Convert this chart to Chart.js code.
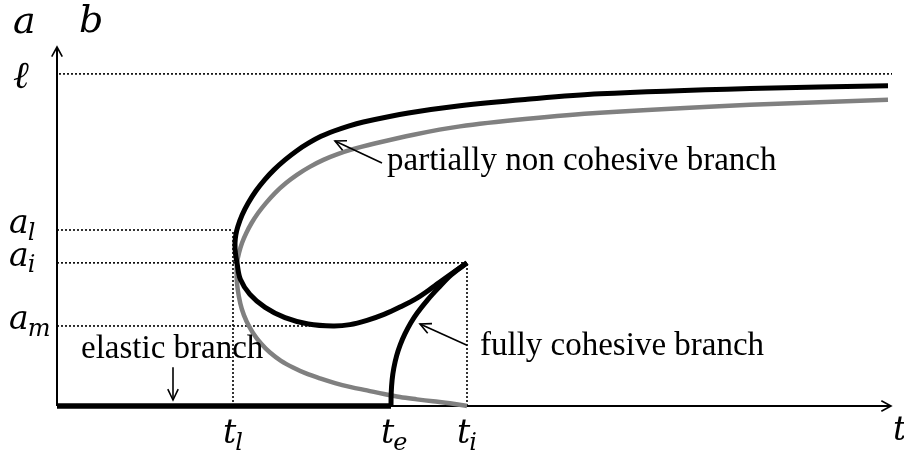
<!DOCTYPE html>
<html><head><meta charset="utf-8">
<script src="https://cdn.jsdelivr.net/npm/chart.js@4/dist/chart.umd.min.js"></script>
<style>html,body{margin:0;padding:0;background:#fff}</style>
</head><body>
<canvas id="c" width="904" height="454"></canvas>
<script>
// Named levels on the time axis and on the crack-length axis
const T_L = 1.76, T_E = 3.34, T_I = 4.10, T_END = 8.34;
const A_M = 0.241, A_I = 0.431, A_L = 0.530, ELL = 1.0, A_TOP = 1.081;

// Tick labels (base_subscript)
const xTickLabels = ['t_l', 't_e', 't_i'];
const xTickValues = [T_L, T_E, T_I];
const yTickLabels = ['ℓ', 'a_l', 'a_i', 'a_m'];
const yTickValues = [ELL, A_L, A_I, A_M];

// Partially non cohesive branch, black (a), from the far end back to the cusp
const blackT = [8.31, 6.93, 5.43, 4.68, 4.03, 3.514, 3.064, 2.915, 2.77, 2.64, 2.518, 2.395, 2.28, 2.169, 2.076, 1.99, 1.912, 1.851, 1.807, 1.788, 1.78, 1.784, 1.80, 1.833, 1.929, 2.081, 2.28, 2.512, 2.76, 2.93, 3.10, 3.27, 3.43, 3.60, 3.76, 3.93, 4.10];
const blackA = [0.964, 0.956, 0.940, 0.923, 0.904, 0.882, 0.855, 0.843, 0.828, 0.812, 0.792, 0.768, 0.741, 0.711, 0.681, 0.648, 0.611, 0.575, 0.539, 0.515, 0.491, 0.461, 0.431, 0.382, 0.336, 0.297, 0.266, 0.247, 0.241, 0.245, 0.258, 0.276, 0.298, 0.325, 0.358, 0.395, 0.431];

// Partially non cohesive branch, grey (b)
const greyT = [8.31, 6.93, 5.43, 4.68, 4.03, 3.566, 3.116, 2.967, 2.813, 2.664, 2.527, 2.399, 2.293, 2.182, 2.089, 2.011, 1.946, 1.893, 1.85, 1.82, 1.80, 1.796, 1.80, 1.818, 1.848, 1.895, 1.96, 2.04, 2.13, 2.24, 2.36, 2.49, 2.63, 2.78, 2.94, 3.10, 3.27, 3.43, 3.60, 3.76, 3.93, 4.10];
const greyA = [0.922, 0.907, 0.883, 0.864, 0.842, 0.817, 0.786, 0.774, 0.759, 0.741, 0.720, 0.696, 0.672, 0.642, 0.611, 0.581, 0.551, 0.521, 0.491, 0.461, 0.431, 0.401, 0.370, 0.331, 0.292, 0.255, 0.220, 0.188, 0.161, 0.136, 0.116, 0.098, 0.083, 0.069, 0.057, 0.047, 0.036, 0.027, 0.020, 0.014, 0.008, 0.0];

// Fully cohesive branch
const cohesiveT = [3.34, 3.342, 3.351, 3.368, 3.396, 3.432, 3.479, 3.537, 3.602, 3.704, 3.812, 3.942, 4.10];
const cohesiveA = [0.0, 0.039, 0.078, 0.114, 0.151, 0.184, 0.217, 0.250, 0.280, 0.319, 0.355, 0.395, 0.431];

// Elastic branch
const elasticT = [0, T_E];
const elasticA = [0, 0];

const pts = (ts, as) => ts.map((t, i) => ({ x: t, y: as[i] }));

const dotted = (a, b) => ({
  data: [a, b], borderColor: '#000', borderWidth: 1.6, borderDash: [2, 2],
  pointRadius: 0, tension: 0, order: 5
});

const serif = '"Liberation Serif", "Times New Roman", serif';
const mathFont = '"DejaVu Serif", serif';

function drawMath(ctx, label, x, y, size) {
  const [base, sub] = label.split('_');
  ctx.font = 'italic ' + size + 'px ' + mathFont;
  ctx.fillText(base, x, y);
  if (sub) {
    const w = ctx.measureText(base).width;
    ctx.font = 'italic ' + Math.round(size * 0.72) + 'px ' + mathFont;
    ctx.fillText(sub, x + w - 1, y + size * 0.2);
  }
}

function openHead(ctx, x1, y1, x2, y2, len, spread) {
  const ang = Math.atan2(y2 - y1, x2 - x1);
  ctx.beginPath();
  ctx.moveTo(x2 - len * Math.cos(ang - spread), y2 - len * Math.sin(ang - spread));
  ctx.lineTo(x2, y2);
  ctx.lineTo(x2 - len * Math.cos(ang + spread), y2 - len * Math.sin(ang + spread));
  ctx.stroke();
}

// Callouts: text anchor and arrow in data coordinates
const notes = [
  { text: 'partially non cohesive branch', at: [3.30, 0.711], from: [3.25, 0.732], to: [2.78, 0.798] },
  { text: 'fully cohesive branch', at: [4.23, 0.154], from: [4.10, 0.183], to: [3.63, 0.247] },
  { text: 'elastic branch', at: [0.24, 0.145], from: [1.16, 0.117], to: [1.16, 0.018] }
];

const axesPlugin = {
  id: 'axes',
  beforeDatasetsDraw(chart) {
    const { ctx, scales: { x, y } } = chart;
    const x0 = x.getPixelForValue(0), y0 = y.getPixelForValue(0);
    const xe = x.getPixelForValue(T_END), ye = y.getPixelForValue(A_TOP);
    ctx.save();
    ctx.strokeStyle = '#000';
    ctx.lineWidth = 2;
    ctx.beginPath();
    ctx.moveTo(x0, y0); ctx.lineTo(xe, y0);
    ctx.moveTo(x0, y0); ctx.lineTo(x0, ye);
    ctx.stroke();
    ctx.lineWidth = 1.6;
    openHead(ctx, x0, y0, xe, y0, 11, 0.5);
    openHead(ctx, x0, y0, x0, ye, 11, 0.5);
    ctx.restore();
  },
  afterDatasetsDraw(chart) {
    const { ctx, scales: { x, y } } = chart;
    ctx.save();
    ctx.fillStyle = '#000';
    ctx.textBaseline = 'alphabetic';
    ctx.textAlign = 'left';
    const left = x.getPixelForValue(0), bottom = y.getPixelForValue(0);
    // vertical tick labels
    yTickLabels.forEach((lab, i) => {
      const py = y.getPixelForValue(yTickValues[i]);
      if (lab.includes('_')) drawMath(ctx, lab, left - 48, py + 3, 33);
      else drawMath(ctx, lab, left - 44, py + 14, 38);
    });
    // horizontal tick labels
    xTickLabels.forEach((lab, i) => {
      const px = x.getPixelForValue(xTickValues[i]);
      drawMath(ctx, lab, px - 10, bottom + 37, 33);
    });
    // axis names
    drawMath(ctx, 't', x.getPixelForValue(T_END) + 2, bottom + 34, 33);
    drawMath(ctx, 'a', left - 44, 33, 38);
    drawMath(ctx, 'b', left + 22, 32, 38);
    // callouts
    ctx.strokeStyle = '#000';
    ctx.lineWidth = 1.6;
    ctx.font = '33px ' + serif;
    notes.forEach(n => {
      const fx = x.getPixelForValue(n.from[0]), fy = y.getPixelForValue(n.from[1]);
      const tx = x.getPixelForValue(n.to[0]), ty = y.getPixelForValue(n.to[1]);
      ctx.beginPath(); ctx.moveTo(fx, fy); ctx.lineTo(tx, ty); ctx.stroke();
      openHead(ctx, fx, fy, tx, ty, 12, 0.45);
      ctx.fillText(n.text, x.getPixelForValue(n.at[0]), y.getPixelForValue(n.at[1]));
    });
    ctx.restore();
  }
};

new Chart(document.getElementById('c'), {
  type: 'line',
  data: {
    datasets: [
      dotted({ x: 0.02, y: ELL }, { x: 8.35, y: ELL }),
      dotted({ x: 0, y: A_L }, { x: T_L, y: A_L }),
      dotted({ x: 0, y: A_I }, { x: T_I, y: A_I }),
      dotted({ x: 0, y: A_M }, { x: 2.53, y: A_M }),
      dotted({ x: T_L, y: 0 }, { x: T_L, y: A_L }),
      dotted({ x: T_I, y: 0 }, { x: T_I, y: A_I }),
      { data: pts(greyT, greyA), borderColor: '#808080', borderWidth: 4.5, pointRadius: 0, tension: 0.35, order: 3 },
      { data: pts(blackT, blackA), borderColor: '#000', borderWidth: 5, pointRadius: 0, tension: 0.35, order: 2 },
      { data: pts(cohesiveT, cohesiveA), borderColor: '#000', borderWidth: 5, pointRadius: 0, tension: 0.35, order: 1 },
      { data: pts(elasticT, elasticA), borderColor: '#000', borderWidth: 5.5, pointRadius: 0, tension: 0, order: 0 }
    ]
  },
  options: {
    responsive: false,
    animation: false,
    layout: { padding: { left: 57, right: 13, top: 47, bottom: 48 } },
    scales: {
      x: { type: 'linear', min: 0, max: T_END, display: false },
      y: { type: 'linear', min: 0, max: A_TOP, display: false }
    },
    plugins: { legend: { display: false }, tooltip: { enabled: false } },
    elements: { line: { capBezierPoints: false, borderCapStyle: 'butt', borderJoinStyle: 'round' } },
    datasets: { line: { clip: false, fill: false } }
  },
  plugins: [axesPlugin]
});
</script>
</body></html>
